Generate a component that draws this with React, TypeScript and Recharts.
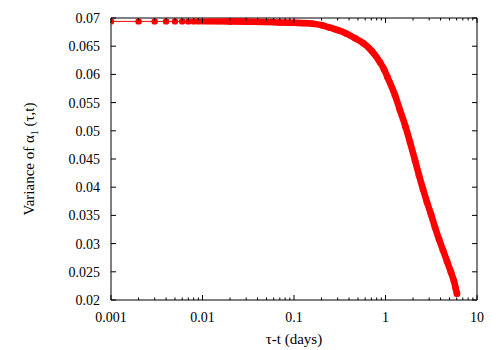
import React from 'react';
import { ScatterChart, Scatter, XAxis, YAxis, Label } from 'recharts';

const FONT = '"Liberation Serif", "Times New Roman", Times, serif';
const RED = '#ff0000';

// sparse early points (individually visible dots)
const sparseX = [0.001, 0.002, 0.003, 0.004, 0.005, 0.006, 0.007, 0.008, 0.009, 0.01,
  0.011, 0.012, 0.013, 0.014, 0.015, 0.016, 0.017, 0.018, 0.019, 0.02];
const sparseY = [0.0694, 0.0694, 0.0694, 0.0694, 0.0694, 0.0694, 0.0694, 0.0694, 0.0694, 0.0694,
  0.0694, 0.0694, 0.0694, 0.0694, 0.0694, 0.0694, 0.0694, 0.0694, 0.0694, 0.0694];

// dense part of the curve (points merge into a thick band)
const denseX = [0.02, 0.03, 0.05, 0.0703, 0.1, 0.1613, 0.2023, 0.2474, 0.3027, 0.3767, 0.464,
  0.572, 0.712, 0.871, 0.963, 1.052, 1.27, 1.44, 1.663, 1.853, 2.101, 2.323, 2.57, 2.841,
  3.143, 3.475, 3.843, 4.25, 4.7, 5.197, 5.605, 5.85, 6.04];
const denseY = [0.0694, 0.06935, 0.0693, 0.0692, 0.06915, 0.06899, 0.06872, 0.06828, 0.06784,
  0.06722, 0.06642, 0.06553, 0.06411, 0.06216, 0.06092, 0.0595, 0.05631, 0.05365, 0.05064,
  0.04798, 0.04479, 0.04213, 0.03965, 0.03734, 0.03521, 0.03291, 0.03078, 0.02883, 0.02688,
  0.02493, 0.02333, 0.02209, 0.02112];

const xMajorTicks = [0.001, 0.01, 0.1, 1, 10];
const xMajorLabels = ['0.001', '0.01', '0.1', '1', '10'];
const xMinorTicks = [0.002, 0.003, 0.004, 0.005, 0.006, 0.007, 0.008, 0.009,
  0.02, 0.03, 0.04, 0.05, 0.06, 0.07, 0.08, 0.09,
  0.2, 0.3, 0.4, 0.5, 0.6, 0.7, 0.8, 0.9,
  2, 3, 4, 5, 6, 7, 8, 9];
const xAllTicks = [...xMajorTicks, ...xMinorTicks].sort((a, b) => a - b);
const yTicks = [0.02, 0.025, 0.03, 0.035, 0.04, 0.045, 0.05, 0.055, 0.06, 0.065, 0.07];
const yTickLabels = ['0.02', '0.025', '0.03', '0.035', '0.04', '0.045', '0.05', '0.055', '0.06', '0.065', '0.07'];

const sparseData = sparseX.map((x, i) => ({ x, y: sparseY[i] }));
const denseData = denseX.map((x, i) => ({ x, y: denseY[i] }));

const X_DOMAIN: [number, number] = [0.001, 10];
const Y_DOMAIN: [number, number] = [0.02, 0.07];

const black = { stroke: '#000', strokeWidth: 1 };
const MAJOR = 5;
const MINOR = 2.5;

const majorIndex = (v: number) => xMajorTicks.findIndex((t) => Math.abs(t - v) < t * 1e-6);

const BottomTick = (props: any) => {
  const { x, y, payload } = props;
  const mi = majorIndex(payload.value);
  const len = mi >= 0 ? MAJOR : MINOR;
  return (
    <g>
      <line x1={x} x2={x} y1={y} y2={y - len} stroke="#000" strokeWidth={1} />
      {mi >= 0 && (
        <text x={x} y={y + 21.5} textAnchor="middle" fontFamily={FONT} fontSize={14} fill="#000">
          {xMajorLabels[mi]}
        </text>
      )}
    </g>
  );
};

const TopTick = (props: any) => {
  const { x, y, payload } = props;
  const len = majorIndex(payload.value) >= 0 ? MAJOR : MINOR;
  return <line x1={x} x2={x} y1={y} y2={y + len} stroke="#000" strokeWidth={1} />;
};

const LeftTick = (props: any) => {
  const { x, y, payload } = props;
  const i = yTicks.findIndex((t) => Math.abs(t - payload.value) < 1e-9);
  return (
    <g>
      <line x1={x} x2={x + MAJOR} y1={y} y2={y} stroke="#000" strokeWidth={1} />
      <text x={x - 11} y={y} dy="0.35em" textAnchor="end" fontFamily={FONT} fontSize={14} fill="#000">
        {yTickLabels[i]}
      </text>
    </g>
  );
};

const RightTick = (props: any) => {
  const { x, y } = props;
  return <line x1={x} x2={x - MAJOR} y1={y} y2={y} stroke="#000" strokeWidth={1} />;
};

const Dot = (r: number) => (props: any) => (
  <circle cx={props.cx} cy={props.cy} r={r} fill={RED} />
);

const YLabel = (props: any) => {
  const vb = props.viewBox || { x: 0, y: 10, width: 103, height: 282 };
  const cx = vb.x + 26;
  const cy = vb.y + vb.height / 2;
  return (
    <text x={cx} y={cy} textAnchor="middle" transform={`rotate(-90, ${cx}, ${cy})`}
      fontFamily={FONT} fontSize={15} fill="#000">
      Variance of α<tspan dy={4} fontSize={10}>1</tspan><tspan dy={-4}>{'  (τ,t)'}</tspan>
    </text>
  );
};

const XLabel = (props: any) => {
  const vb = props.viewBox || { x: 103, y: 292, width: 366, height: 58 };
  const cx = vb.x + vb.width / 2;
  return (
    <text x={cx} y={vb.y + 44} textAnchor="middle" fontFamily={FONT} fontSize={15} fill="#000">
      τ-t (days)
    </text>
  );
};

const logX = { type: 'number' as const, dataKey: 'x', scale: 'log' as const, domain: X_DOMAIN, allowDataOverflow: true };
const linY = { type: 'number' as const, dataKey: 'y', domain: Y_DOMAIN, allowDataOverflow: true };

export default function App() {
  return (
    <ScatterChart width={500} height={350} margin={{ top: 0, right: 0, bottom: 0, left: 0 }}>
      <XAxis xAxisId="main" {...logX} orientation="bottom" height={58} ticks={xAllTicks} interval={0}
        tick={BottomTick} tickSize={0} tickMargin={0} axisLine={black} tickLine={false}>
        <Label content={XLabel} />
      </XAxis>
      <XAxis xAxisId="top" {...logX} orientation="top" height={10} ticks={xAllTicks} interval={0}
        tick={TopTick} tickSize={0} tickMargin={0} axisLine={black} tickLine={false} />
      <YAxis yAxisId="main" {...linY} orientation="left" width={103} ticks={yTicks} interval={0}
        tick={LeftTick} tickSize={0} tickMargin={0} axisLine={black} tickLine={false}>
        <Label content={YLabel} />
      </YAxis>
      <YAxis yAxisId="right" {...linY} orientation="right" width={31} ticks={yTicks} interval={0}
        tick={RightTick} tickSize={0} tickMargin={0} axisLine={black} tickLine={false} />
      <Scatter xAxisId="main" yAxisId="main" data={sparseData} fill={RED}
        line={{ stroke: RED, strokeWidth: 1 }} shape={Dot(3.2)} isAnimationActive={false} />
      <Scatter xAxisId="main" yAxisId="main" data={denseData} fill={RED}
        line={{ stroke: RED, strokeWidth: 6.6, strokeLinejoin: 'round', strokeLinecap: 'round' }}
        lineJointType="monotoneX" shape={Dot(3.3)} isAnimationActive={false} />
    </ScatterChart>
  );
}
